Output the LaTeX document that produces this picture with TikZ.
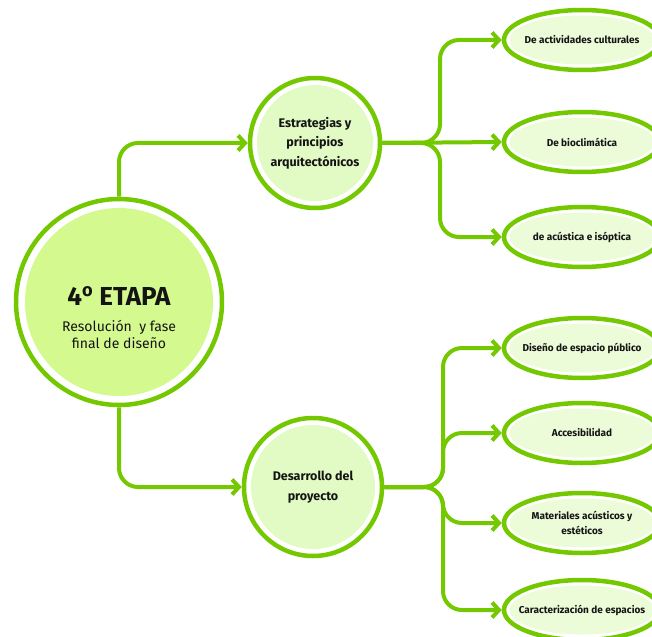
\documentclass[tikz,border=0pt]{standalone}
\usepackage{fontspec}
\setmainfont{Fira Sans}
\usepackage{xcolor}
\usetikzlibrary{shapes.geometric,arrows.meta}

\definecolor{ringgreen}{HTML}{74C800}
\definecolor{mainfill}{HTML}{D4F98F}
\definecolor{subfill}{HTML}{E2FBC4}
\definecolor{ovalfill}{HTML}{ECFBD8}
\definecolor{inktext}{HTML}{141414}

\tikzset{
  ring/.style={draw=ringgreen, line width=4.5pt, fill=white, inner sep=0pt, text=inktext},
  bighub/.style={ring, circle, minimum size=206pt,
    path picture={\fill[mainfill] (path picture bounding box.center) circle (94pt);}},
  hub/.style={ring, circle, minimum size=#1, align=center,
    font=\fontsize{12.5}{19.5}\selectfont\bfseries,
    path picture={\fill[subfill] (path picture bounding box.center) circle (#1/2-7pt);}},
  oval/.style={ring, ellipse, minimum width=156pt, minimum height=60pt, align=center,
    inner xsep=-30pt, font=\fontsize{10}{14.5}\selectfont\bfseries,
    path picture={\fill[ovalfill] (path picture bounding box.center) ellipse (72.5pt and 24.5pt);}},
  link/.style={draw=ringgreen, line width=4pt, rounded corners=19pt,
    -{Straight Barb[length=7pt,width=15pt]}}
}

\begin{document}
\begin{tikzpicture}[x=1pt,y=1pt]
  \useasboundingbox (0,0) rectangle (652,-636);

  % central stage
  \node (etapa) [bighub] at (119,-302) {};
  \node (etapatitle) [text=inktext, font=\fontsize{26}{30}\selectfont\bfseries] at (119,-296) {4\textsuperscript{o} ETAPA};
  \node (etapasub) [text=inktext, align=center, font=\fontsize{14}{17}\selectfont] at (119,-334) {Resolución\ \ y fase\\final de diseño};

  % second level
  \node (estrategias) [hub=130pt] at (315,-143) {Estrategias y\\principios\\arquitectónicos};
  \node (desarrollo) [hub=138pt] at (313,-487) {Desarrollo del\\proyecto};

  % third level, upper branch
  \node (cultural) [oval] at (582,-40) {De actividades culturales};
  \node (bioclima) [oval] at (582,-142) {De bioclimática};
  \node (acustica) [oval] at (582,-237) {de acústica e isóptica};

  % third level, lower branch
  \node (espacio) [oval] at (582,-348) {Diseño de espacio público};
  \node (acceso) [oval] at (582,-433) {Accesibilidad};
  \node (materiales) [oval] at (582,-523) {Materiales acústicos y\\estéticos};
  \node (caracter) [oval] at (582,-610) {Caracterización de espacios};

  \coordinate (forkup) at (440,-143);
  \coordinate (forkdown) at (443,-487);

  \draw[link] (etapa.north) |- (estrategias.west);
  \draw[link] (etapa.south) |- (desarrollo.west);

  \draw[link] (estrategias.east) -- (forkup) |- (cultural.west);
  \draw[link] (estrategias.east) -- (bioclima.west);
  \draw[link] (estrategias.east) -- (forkup) |- (acustica.west);

  \draw[link] (desarrollo.east) -- (forkdown) |- (espacio.west);
  \draw[link] (desarrollo.east) -- (forkdown) |- (acceso.west);
  \draw[link] (desarrollo.east) -- (forkdown) |- (materiales.west);
  \draw[link] (desarrollo.east) -- (forkdown) |- (caracter.west);
\end{tikzpicture}
\end{document}
